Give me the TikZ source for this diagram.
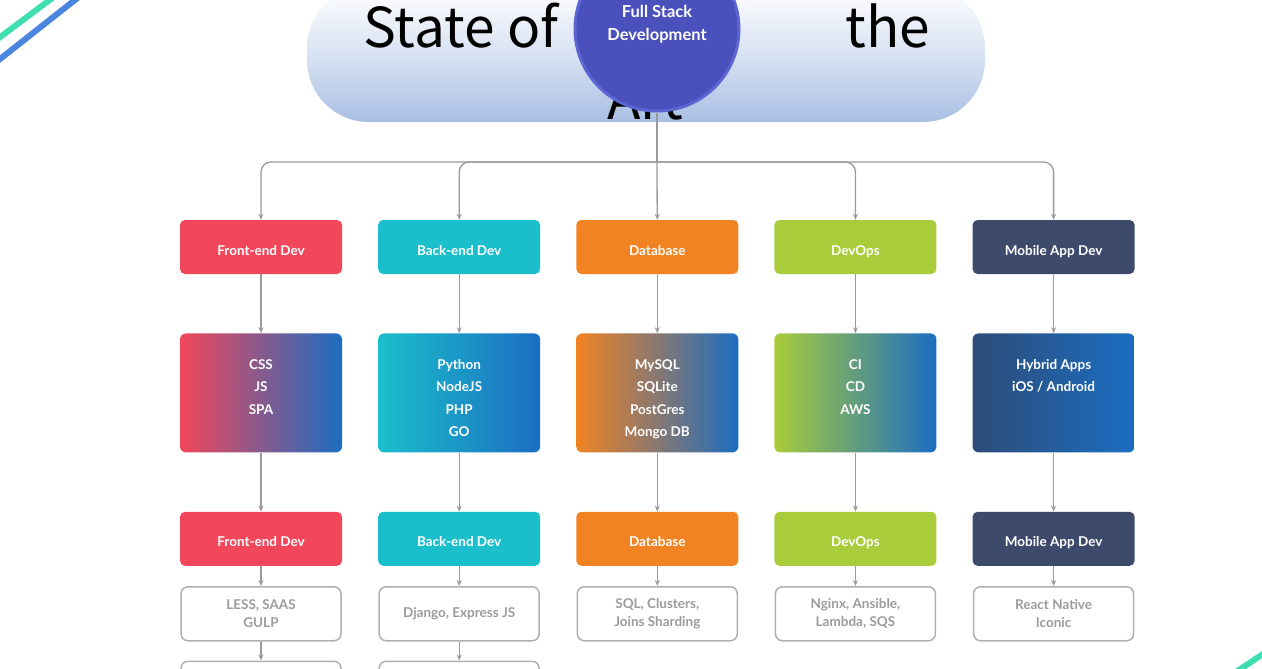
\documentclass[tikz,border=0pt]{standalone}
\usepackage{fontspec}
\setmainfont{Lato}
\newfontfamily\titlefont{Noto Sans CJK JP}
\usetikzlibrary{arrows.meta,positioning,shapes.geometric}

\definecolor{fered}{HTML}{F2475A}
\definecolor{beteal}{HTML}{1BBFCC}
\definecolor{dborange}{HTML}{F28322}
\definecolor{opsgreen}{HTML}{A8CC3A}
\definecolor{mobnavy}{HTML}{3E4A6B}
\definecolor{stackblue}{HTML}{1B6DC1}
\definecolor{mobblue}{HTML}{2D4C78}
\definecolor{hubblue}{HTML}{4A50BC}
\definecolor{hubrim}{HTML}{5C66D2}
\definecolor{bannerblue}{HTML}{A9BFE3}
\definecolor{linegray}{HTML}{9A9A9A}
\definecolor{boxgray}{HTML}{B0B0B0}
\definecolor{txtgray}{HTML}{9C9C9C}
\definecolor{stripeteal}{HTML}{40DDB2}
\definecolor{stripeblue}{HTML}{4A86E0}

\newcommand{\techlist}[1]{\parbox[c][67pt][t]{150pt}{\centering\baselineskip=22.5pt #1\par}}

\begin{document}
\begin{tikzpicture}[
x=1pt, y=-1pt,
node distance=59pt and 35.75pt,
head/.style={rectangle, rounded corners=5pt, minimum width=162pt, minimum height=54pt, inner sep=0pt, text height=16pt, text depth=0pt, text=white, font=\bfseries\fontsize{13.5}{16}\selectfont},
stack/.style={rectangle, rounded corners=6pt, minimum width=162pt, minimum height=119pt, inner xsep=6pt, inner ysep=26pt, text=white, font=\bfseries\fontsize{13.5}{16}\selectfont},
item/.style={rectangle, draw=boxgray, line width=1.5pt, rounded corners=7pt, fill=white, minimum width=160pt, minimum height=54pt, align=center, text=txtgray, font=\bfseries\fontsize{13.5}{18}\selectfont},
title/.style={anchor=base, font=\titlefont\fontsize{55}{62}\selectfont},
arrow/.style={-{Stealth[length=6pt,width=5pt]}, draw=linegray, line width=1.3pt},
line/.style={draw=linegray, line width=1.3pt}
]
\useasboundingbox (0,0) rectangle (1262,669);
\clip (0,0) rectangle (1262,669);

% corner stripes
\draw[line width=6pt, stripeteal] (-5,41) -- (55,-4);
\draw[line width=6pt, stripeblue] (-5,63) -- (80,-4);
\draw[line width=6pt, stripeteal] (1236,672) -- (1266,652);

% banner and hub
\node[rectangle, rounded corners=62pt, minimum width=678pt, minimum height=136pt, top color=white, bottom color=bannerblue, middle color=white!55!bannerblue] (banner) at (646,54) {};
\node[title] (state) at (461,48) {State of};
\node[title] (the) at (888,48) {the};
\node[title] (art) at (645,120) {Art};
\node[circle, fill=hubblue, draw=hubrim, line width=3pt, minimum size=164pt, align=center, text depth=12pt, text=white, font=\bfseries\fontsize{16.5}{23}\selectfont] (fsd) at (657,29) {Full Stack\\Development};
\coordinate (split) at (657,162);

% first row
\node[head, fill=fered] (fe1) at (261,247) {Front-end Dev};
\node[head, fill=beteal, right=of fe1] (be1) {Back-end Dev};
\node[head, fill=dborange, right=of be1] (db1) {Database};
\node[head, fill=opsgreen, right=of db1] (ops1) {DevOps};
\node[head, fill=mobnavy, right=of ops1] (mob1) {Mobile App Dev};

% second row
\node[stack, left color=fered, right color=stackblue, below=of fe1] (fe2) {\techlist{CSS\\JS\\SPA}};
\node[stack, left color=beteal, right color=stackblue, below=of be1] (be2) {\techlist{Python\\NodeJS\\PHP\\GO}};
\node[stack, left color=dborange, right color=stackblue, below=of db1] (db2) {\techlist{MySQL\\SQLite\\PostGres\\Mongo DB}};
\node[stack, left color=opsgreen, right color=stackblue, below=of ops1] (ops2) {\techlist{CI\\CD\\AWS}};
\node[stack, left color=mobblue, right color=stackblue, below=of mob1] (mob2) {\techlist{Hybrid Apps\\iOS / Android}};

% third row
\node[head, fill=fered, below=of fe2] (fe3) {Front-end Dev};
\node[head, fill=beteal, below=of be2] (be3) {Back-end Dev};
\node[head, fill=dborange, below=of db2] (db3) {Database};
\node[head, fill=opsgreen, below=of ops2] (ops3) {DevOps};
\node[head, fill=mobnavy, below=of mob2] (mob3) {Mobile App Dev};

% fourth row
\node[item, below=20pt of fe3] (fe4) {LESS, SAAS\\GULP};
\node[item, below=20pt of be3] (be4) {Django, Express JS};
\node[item, below=20pt of db3] (db4) {SQL, Clusters,\\Joins Sharding};
\node[item, below=20pt of ops3] (ops4) {Nginx, Ansible,\\Lambda, SQS};
\node[item, below=20pt of mob3] (mob4) {React Native\\Iconic};

% fifth row, cut by the page
\node[item, below=19pt of fe4] (fe5) {};
\node[item, below=19pt of be4] (be5) {};

\draw[line] (fsd.south) -- (split);
\draw[arrow, rounded corners=10pt] (split) -| (fe1.north);
\draw[arrow, rounded corners=10pt] (split) -| (be1.north);
\draw[arrow] (split) -- (db1);
\draw[arrow, rounded corners=10pt] (split) -| (ops1.north);
\draw[arrow, rounded corners=10pt] (split) -| (mob1.north);

\draw[arrow] (fe1) -- (fe2);
\draw[arrow] (be1) -- (be2);
\draw[arrow] (db1) -- (db2);
\draw[arrow] (ops1) -- (ops2);
\draw[arrow] (mob1) -- (mob2);

\draw[arrow] (fe2) -- (fe3);
\draw[arrow] (be2) -- (be3);
\draw[arrow] (db2) -- (db3);
\draw[arrow] (ops2) -- (ops3);
\draw[arrow] (mob2) -- (mob3);

\draw[arrow] (fe3) -- (fe4);
\draw[arrow] (be3) -- (be4);
\draw[arrow] (db3) -- (db4);
\draw[arrow] (ops3) -- (ops4);
\draw[arrow] (mob3) -- (mob4);

\draw[arrow] (fe4) -- (fe5);
\draw[arrow] (be4) -- (be5);

\end{tikzpicture}
\end{document}
